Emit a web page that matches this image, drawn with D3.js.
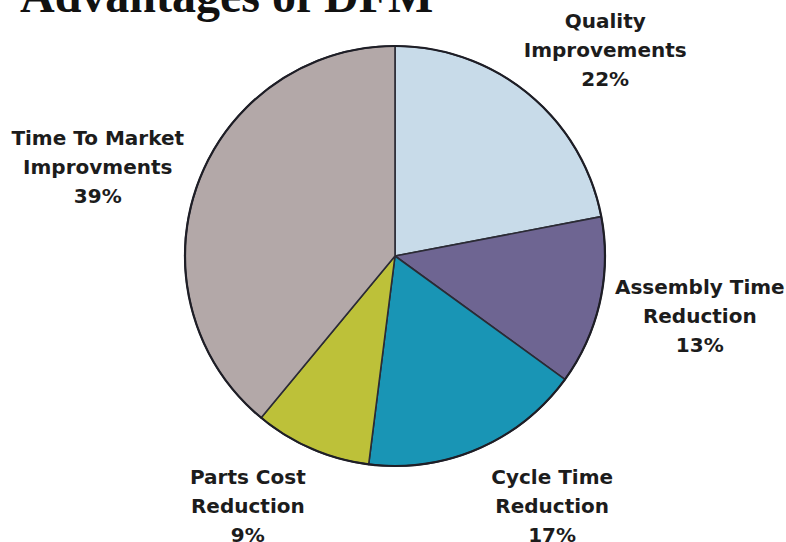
<!DOCTYPE html>
<html lang="en">
<head>
    <meta charset="UTF-8">
    <title>Advantages of DFM</title>
    <script src="https://cdn.jsdelivr.net/npm/d3@7"></script>
    <style>
        body { margin: 0; background: #fff; }
        .label {
            font-family: "DejaVu Sans", Verdana, sans-serif;
            font-weight: bold;
            font-size: 20px;
            fill: #1c1c1c;
        }
        .title {
            font-family: "Liberation Serif", "Times New Roman", serif;
            font-weight: bold;
            font-size: 48px;
            fill: #111;
        }
    </style>
</head>
<body>
    <svg width="786" height="542"></svg>
    <script>
        // data
        const categories = ["Quality Improvements", "Assembly Time Reduction", "Cycle Time Reduction", "Parts Cost Reduction", "Time To Market Improvments"];
        const values = [22, 13, 17, 9, 39];
        const labelLines = [
            ["Quality", "Improvements"],
            ["Assembly Time", "Reduction"],
            ["Cycle Time", "Reduction"],
            ["Parts Cost", "Reduction"],
            ["Time To Market", "Improvments"]
        ];
        const colors = ["#c8dbe9", "#6e6592", "#1995b5", "#bdc139", "#b3a8a8"];

        // layout
        const width = 786, height = 542;
        const cx = 395, cy = 256, radius = 210;
        const labelR = 300;
        const nudges = [[19, 32], [12, 2], [38, -18], [-28, -18], [-15, 20]];
        const lineGap = 29;

        const svg = d3.select("svg");

        svg.append("text")
            .attr("class", "title")
            .attr("x", 20)
            .attr("y", 12)
            .text("Advantages of DFM");

        const pie = d3.pie().sort(null).value(d => d);
        const arcs = pie(values);
        const arc = d3.arc().innerRadius(0).outerRadius(radius);
        const labelArc = d3.arc().innerRadius(labelR).outerRadius(labelR);

        const g = svg.append("g").attr("transform", `translate(${cx},${cy})`);

        g.selectAll("path.slice")
            .data(arcs)
            .enter()
            .append("path")
            .attr("class", "slice")
            .attr("d", arc)
            .attr("fill", (d, i) => colors[i])
            .attr("stroke", "#2b2b35")
            .attr("stroke-width", 1.6)
            .attr("stroke-linejoin", "round");

        // darker outer rim
        g.append("circle")
            .attr("r", radius)
            .attr("fill", "none")
            .attr("stroke", "#1e1e26")
            .attr("stroke-width", 2.2);

        const labels = g.selectAll("text.label")
            .data(arcs)
            .enter()
            .append("text")
            .attr("class", "label")
            .attr("text-anchor", "middle")
            .attr("transform", (d, i) => {
                const c = labelArc.centroid(d);
                return `translate(${c[0] + nudges[i][0]},${c[1] + nudges[i][1]})`;
            });

        labels.each(function (d, i) {
            const t = d3.select(this);
            const lines = labelLines[i].concat([values[i] + "%"]);
            lines.forEach((line, j) => {
                t.append("tspan")
                    .attr("x", 0)
                    .attr("y", (j - 1) * lineGap)
                    .text(line);
            });
        });
    </script>
</body>
</html>
